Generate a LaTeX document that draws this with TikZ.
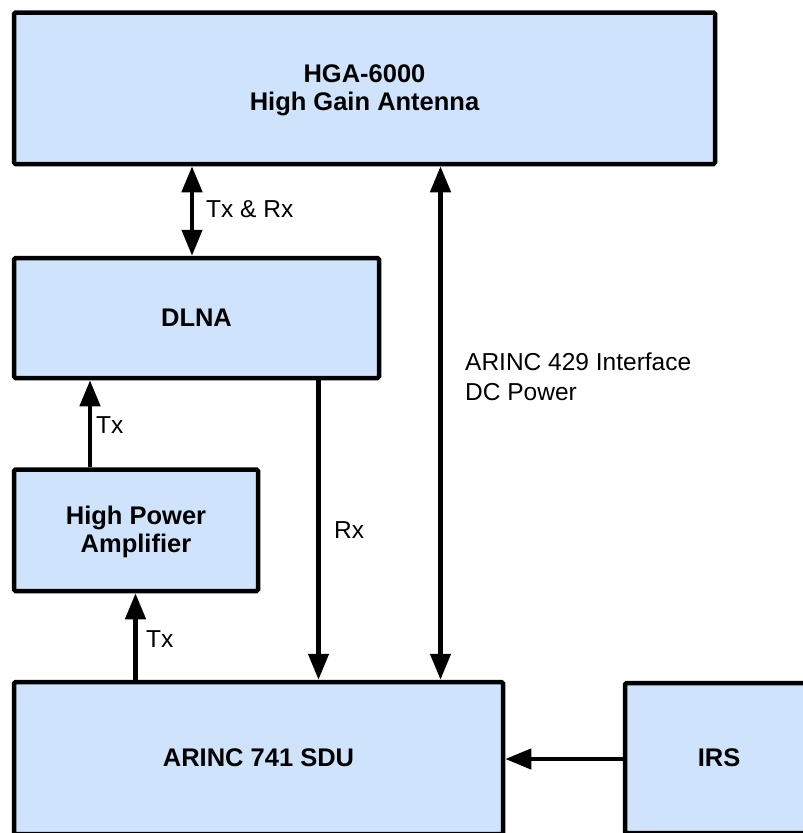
\documentclass[tikz,border=0pt]{standalone}
\usepackage{fontspec}
\setmainfont{Liberation Sans}
\usetikzlibrary{arrows.meta}
\definecolor{boxfill}{RGB}{207,228,252}
\begin{document}
\begin{tikzpicture}[x=1pt,y=-1pt,
  box/.style={draw=black, line width=4.5pt, fill=boxfill, rounded corners=1.5pt,
    inner sep=0pt, align=center, font=\fontsize{25.5}{28.5}\selectfont\bfseries},
  lbl/.style={inner sep=0pt, font=\fontsize{24.5}{30}\selectfont},
  conn/.style={line width=4.5pt, -{Triangle[length=26pt,width=20pt]}},
  dconn/.style={line width=4.5pt, {Triangle[length=26pt,width=20pt]}-{Triangle[length=26pt,width=20pt]}}]
\useasboundingbox (0,0) rectangle (803,833);
\fill[white] (0,0) rectangle (803,833);
\clip (0,0) rectangle (803,833);

\node[box, minimum width=701pt, minimum height=151.5pt] (hga) at (364.5,88.25) {\rule{0pt}{22pt}HGA-6000\\High Gain Antenna};
\node[box, minimum width=365pt, minimum height=120pt] (dlna) at (196.5,318) {DLNA};
\node[box, minimum width=244pt, minimum height=121.5pt] (hpa) at (136,530.25) {\rule{0pt}{22pt}High Power\\Amplifier};
\node[box, minimum width=489pt, minimum height=152pt] (sdu) at (258.5,758) {ARINC 741 SDU};
\node[box, minimum width=188pt, minimum height=150pt] (irs) at (719,758) {IRS};

\coordinate (cTR) at (192,0);
\coordinate (cAR) at (440.5,0);
\coordinate (cRx) at (318.5,0);
\coordinate (cTxA) at (90,0);
\coordinate (cTxB) at (135.5,0);
\coordinate (cIRS) at (0,759);

\draw[dconn] (hga.south -| cTR) -- (dlna.north -| cTR);
\draw[dconn] (hga.south -| cAR) -- (sdu.north -| cAR);
\draw[conn] (dlna.south -| cRx) -- (sdu.north -| cRx);
\draw[conn] (hpa.north -| cTxA) -- (dlna.south -| cTxA);
\draw[conn] (sdu.north -| cTxB) -- (hpa.south -| cTxB);
\draw[conn] (irs.west |- cIRS) -- (sdu.east |- cIRS);

\node[lbl, anchor=west] (lTR) at (206,209) {Tx \& Rx};
\node[lbl, anchor=west] (lTxA) at (96,425) {Tx};
\node[lbl, anchor=west] (lTxB) at (146,639) {Tx};
\node[lbl, anchor=west] (lRx) at (334,530) {Rx};
\node[lbl, anchor=west, align=left] (lAR) at (465,377) {ARINC 429 Interface\\DC Power};
\end{tikzpicture}
\end{document}
